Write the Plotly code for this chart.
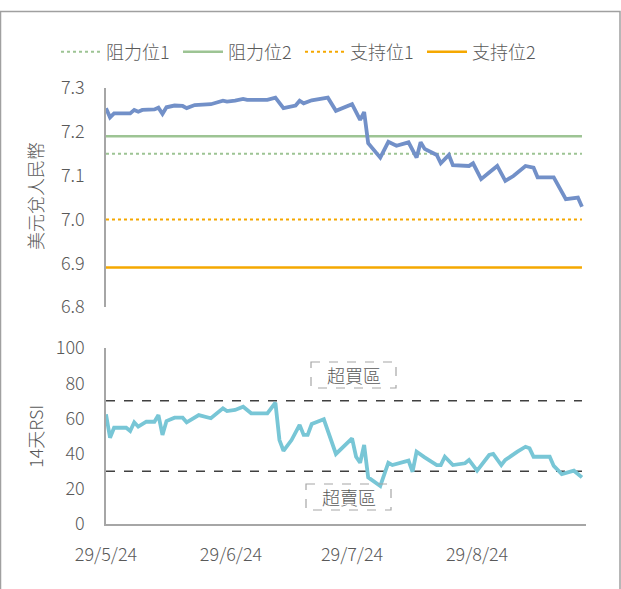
import plotly.graph_objects as go

# ---------------- data ----------------
fx_dates = ["2024-05-29", "2024-05-30", "2024-05-31", "2024-06-04", "2024-06-05", "2024-06-06",
            "2024-06-07", "2024-06-10", "2024-06-11", "2024-06-12", "2024-06-13", "2024-06-15",
            "2024-06-17", "2024-06-18", "2024-06-20", "2024-06-24", "2024-06-27", "2024-06-28",
            "2024-06-30", "2024-07-02", "2024-07-03", "2024-07-08", "2024-07-10", "2024-07-12",
            "2024-07-15", "2024-07-16", "2024-07-17", "2024-07-19", "2024-07-23", "2024-07-25",
            "2024-07-29", "2024-07-31", "2024-08-01", "2024-08-02", "2024-08-05", "2024-08-07",
            "2024-08-09", "2024-08-12", "2024-08-14", "2024-08-15", "2024-08-16", "2024-08-19",
            "2024-08-20", "2024-08-22", "2024-08-23", "2024-08-27", "2024-08-28", "2024-08-30",
            "2024-09-01", "2024-09-03", "2024-09-05", "2024-09-07", "2024-09-10", "2024-09-12",
            "2024-09-13", "2024-09-17", "2024-09-20", "2024-09-23", "2024-09-24"]
usdcny = [7.254, 7.233, 7.242, 7.242, 7.250, 7.246,
          7.250, 7.251, 7.255, 7.241, 7.256, 7.260,
          7.259, 7.254, 7.261, 7.263, 7.271, 7.269,
          7.271, 7.275, 7.273, 7.273, 7.278, 7.254,
          7.260, 7.271, 7.265, 7.272, 7.278, 7.248,
          7.263, 7.227, 7.245, 7.174, 7.141, 7.177,
          7.168, 7.176, 7.141, 7.176, 7.161, 7.147,
          7.128, 7.147, 7.124, 7.122, 7.128, 7.092,
          7.107, 7.122, 7.088, 7.099, 7.122, 7.118,
          7.096, 7.096, 7.046, 7.050, 7.029]

rsi_dates = ["2024-05-29", "2024-05-30", "2024-05-31", "2024-06-03", "2024-06-04", "2024-06-05",
             "2024-06-06", "2024-06-08", "2024-06-10", "2024-06-11", "2024-06-12", "2024-06-13",
             "2024-06-15", "2024-06-17", "2024-06-18", "2024-06-21", "2024-06-24", "2024-06-27",
             "2024-06-28", "2024-06-30", "2024-07-02", "2024-07-04", "2024-07-08", "2024-07-10",
             "2024-07-11", "2024-07-12", "2024-07-14", "2024-07-16", "2024-07-17", "2024-07-18",
             "2024-07-19", "2024-07-22", "2024-07-25", "2024-07-29", "2024-07-30", "2024-07-31",
             "2024-08-01", "2024-08-02", "2024-08-05", "2024-08-07", "2024-08-08", "2024-08-12",
             "2024-08-13", "2024-08-14", "2024-08-16", "2024-08-19", "2024-08-20", "2024-08-21",
             "2024-08-23", "2024-08-26", "2024-08-27", "2024-08-29", "2024-09-01", "2024-09-02",
             "2024-09-04", "2024-09-05", "2024-09-08", "2024-09-10", "2024-09-11", "2024-09-12",
             "2024-09-16", "2024-09-17", "2024-09-19", "2024-09-22", "2024-09-24"]
rsi = [62.3, 49.0, 54.7, 54.7, 52.8, 57.8,
       55.3, 58.1, 58.1, 61.9, 50.6, 58.5,
       60.4, 60.4, 57.8, 61.9, 60.1, 65.7,
       64.2, 64.8, 66.6, 62.9, 62.9, 68.9,
       47.7, 41.6, 47.7, 56.3, 50.6, 50.6,
       56.8, 59.5, 39.8, 48.7, 38.2, 34.8,
       44.9, 26.5, 21.6, 34.8, 33.5, 36.0,
       29.7, 41.1, 37.9, 33.5, 33.5, 38.2,
       33.5, 34.5, 36.4, 30.3, 39.2, 39.8,
       33.5, 36.4, 41.1, 43.9, 43.0, 38.2,
       38.2, 33.0, 28.4, 30.3, 26.5]

level_names = ["阻力位1", "阻力位2", "支持位1", "支持位2"]
level_values = [7.15, 7.19, 7.00, 6.89]
rsi_bands = [70, 30]
zone_labels = ["超買區", "超賣區"]

x_tick_dates = ["2024-05-29", "2024-06-29", "2024-07-29", "2024-08-29"]
x_tick_labels = ["29/5/24", "29/6/24", "29/7/24", "29/8/24"]
x_range = ["2024-05-29", "2024-09-25"]

# ---------------- styling ----------------
FONT = "Noto Sans CJK TC"
TXT = "#595959"
AX = "#A6A6A6"
GREEN = "#9DC494"
ORANGE = "#F5A800"
BLUE = "#7290C8"
TEAL = "#78C6D6"
WEIGHT = 300
FS = 18

level_styles = [
    dict(color=GREEN, width=2, dash="dot"),
    dict(color=GREEN, width=2.5, dash="solid"),
    dict(color=ORANGE, width=2, dash="dot"),
    dict(color=ORANGE, width=2.5, dash="solid"),
]

fig = go.Figure()

line_span = [fx_dates[0], fx_dates[-1]]
for name, val, st in zip(level_names, level_values, level_styles):
    fig.add_trace(go.Scatter(x=line_span, y=[val, val], mode="lines", name=name,
                             line=st, xaxis="x", yaxis="y", hoverinfo="skip"))

fig.add_trace(go.Scatter(x=fx_dates, y=usdcny, mode="lines", name="美元兌人民幣",
                         line=dict(color=BLUE, width=3.8), showlegend=False,
                         xaxis="x", yaxis="y"))

for b in rsi_bands:
    fig.add_trace(go.Scatter(x=line_span, y=[b, b], mode="lines", showlegend=False,
                             line=dict(color="#404040", width=1.5, dash="dash"),
                             xaxis="x2", yaxis="y2", hoverinfo="skip"))

fig.add_trace(go.Scatter(x=rsi_dates, y=rsi, mode="lines", name="14天RSI",
                         line=dict(color=TEAL, width=3.8), showlegend=False,
                         xaxis="x2", yaxis="y2"))

W, H = 621, 589
L, R, T, B = 106, 35, 88, 65
pw, ph = W - L - R, H - T - B


def px(xp):
    return (xp - L) / pw


def py(yp):
    return (H - B - yp) / ph


def f(size=FS):
    return dict(family=FONT, size=size, color=TXT, weight=WEIGHT)


axis_common = dict(showgrid=False, zeroline=False, linecolor=AX, linewidth=1.5,
                   tickfont=f(), ticks="")

fig.update_layout(
    width=W, height=H,
    margin=dict(l=L, r=R, t=T, b=B),
    paper_bgcolor="white", plot_bgcolor="white",
    font=f(),
    xaxis=dict(domain=[0, 1], range=x_range, type="date", anchor="y",
               showline=False, showticklabels=False, showgrid=False, zeroline=False),
    yaxis=dict(domain=[py(307), 1], range=[6.8, 7.3], dtick=0.1, tickformat=".1f",
               showline=True, ticklabelstandoff=16, **axis_common),
    xaxis2=dict(domain=[0, 1], range=x_range, type="date", anchor="y2",
                showline=True, tickvals=x_tick_dates, ticktext=x_tick_labels,
                ticklabelstandoff=14, **axis_common),
    yaxis2=dict(domain=[0, py(348)], range=[0, 100], dtick=20, anchor="x2",
                showline=True, ticklabelstandoff=16, **axis_common),
    legend=dict(orientation="h", x=px(56), xanchor="left", y=py(52), yanchor="middle",
                font=f(),
                entrywidth=67, entrywidthmode="pixels", itemwidth=40,
                bgcolor="rgba(0,0,0,0)"),
    showlegend=True,
)

# axis titles
fig.add_annotation(text="美元兌人民幣", x=px(35), y=py(196), xref="paper", yref="paper",
                   xanchor="center", yanchor="middle",
                   textangle=-90, showarrow=False, font=f())
fig.add_annotation(text="14天RSI", x=px(35), y=py(437), xref="paper", yref="paper",
                   xanchor="center", yanchor="middle",
                   textangle=-90, showarrow=False, font=f())

# zone boxes
boxes = [(311, 396, 362, 388), (306, 391, 484, 510)]
for label, (x0, x1, y0, y1) in zip(zone_labels, boxes):
    fig.add_shape(type="rect", xref="paper", yref="paper",
                  x0=px(x0), x1=px(x1), y0=py(y0), y1=py(y1),
                  line=dict(color="#A6A6A6", width=1.2, dash="dash"))
    fig.add_annotation(text=label, x=px((x0 + x1) / 2), y=py((y0 + y1) / 2),
                       xref="paper", yref="paper", showarrow=False,
                       xanchor="center", yanchor="middle", font=f())

# outer frame
fig.add_shape(type="rect", xref="paper", yref="paper",
              x0=px(0.5), x1=px(620), y0=py(600), y1=py(11.5),
              line=dict(color="#A0A0A0", width=1.5))

fig.write_html("out.html", config={"displayModeBar": False},
               post_script="document.body.style.margin='0';document.body.style.overflow='hidden';")
